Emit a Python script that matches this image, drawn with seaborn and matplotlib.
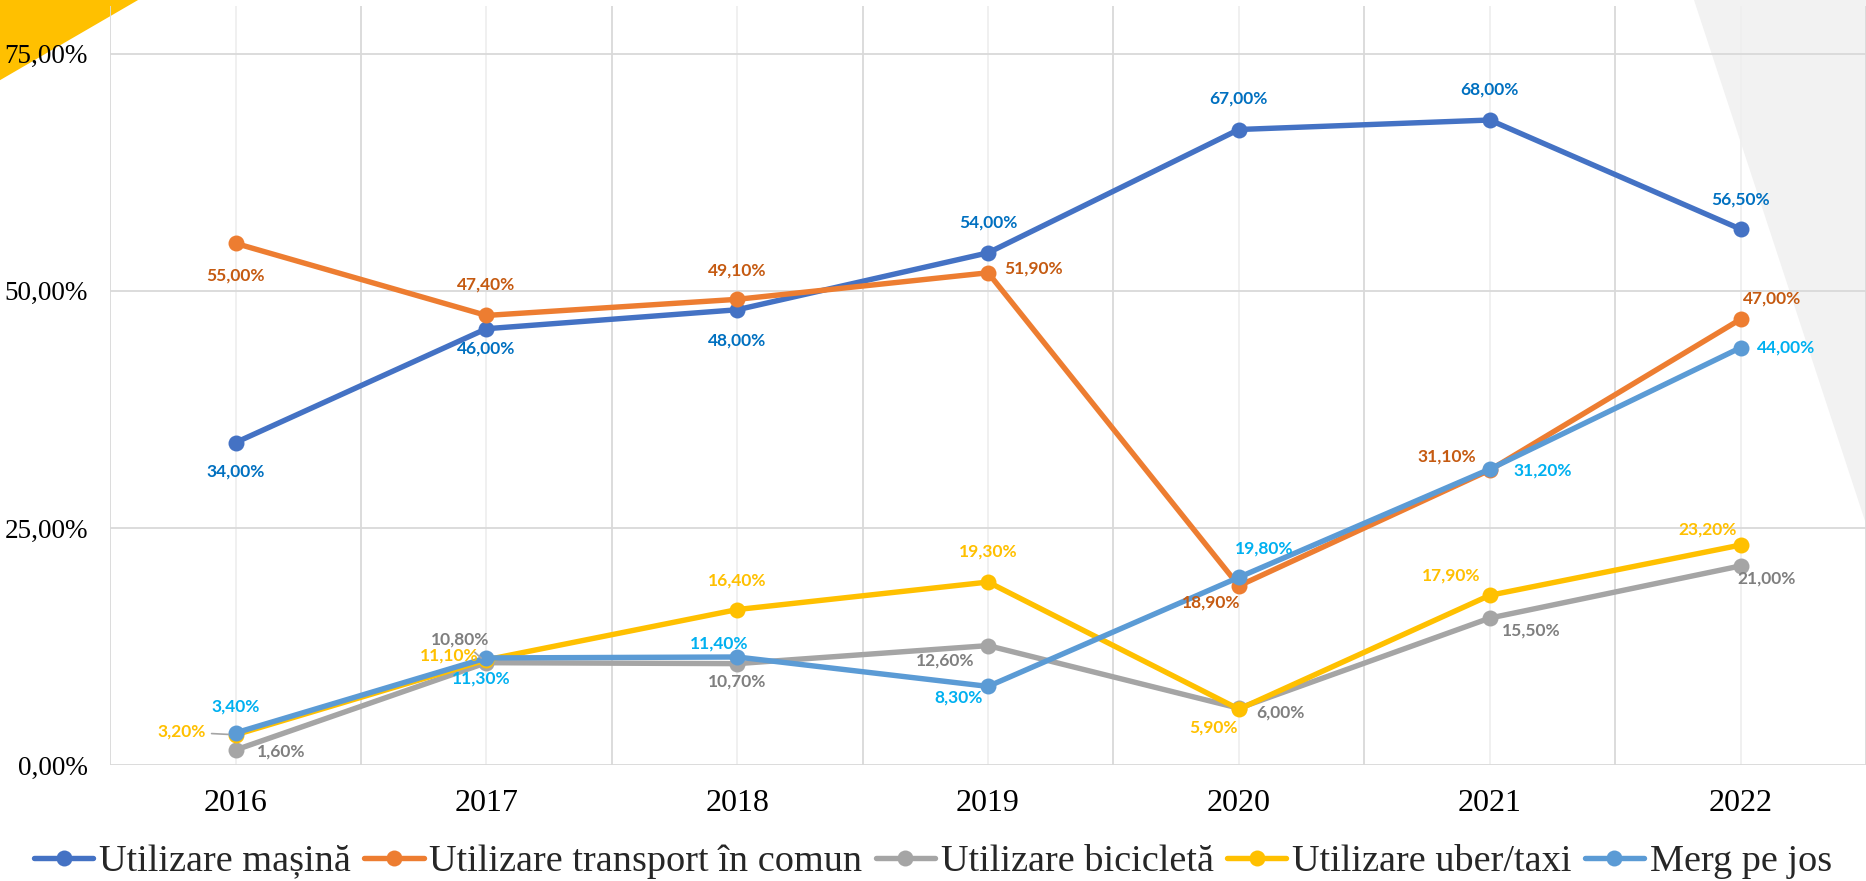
import numpy as np
import pandas as pd
import matplotlib.pyplot as plt
import seaborn as sns
from matplotlib.patches import Polygon

# -----------------------------
# Data
# -----------------------------
years = ["2016", "2017", "2018", "2019", "2020", "2021", "2022"]
series_names = ["Utilizare mașină", "Utilizare transport în comun",
                "Utilizare bicicletă", "Utilizare uber/taxi", "Merg pe jos"]
masina = [34.0, 46.0, 48.0, 54.0, 67.0, 68.0, 56.5]
transport = [55.0, 47.4, 49.1, 51.9, 18.9, 31.1, 47.0]
bicicleta = [1.6, 10.8, 10.7, 12.6, 6.0, 15.5, 21.0]
uber = [3.2, 11.1, 16.4, 19.3, 5.9, 17.9, 23.2]
pe_jos = [3.4, 11.3, 11.4, 8.3, 19.8, 31.2, 44.0]
y_ticks = [0, 25, 50, 75]

values = [masina, transport, bicicleta, uber, pe_jos]
rows = []
for name, vals in zip(series_names, values):
    for i, v in enumerate(vals):
        rows.append({"x": i, "an": years[i], "serie": name, "val": v})
df = pd.DataFrame(rows)

# -----------------------------
# Style
# -----------------------------
line_colors = ["#4472C4", "#ED7D31", "#A5A5A5", "#FFC000", "#5B9BD5"]
label_colors = ["#0070C0", "#C55A11", "#7F7F7F", "#FFC000", "#00B0F0"]
# label offsets (points) for every point of each series
offsets = [
    [(0, -21), (0, -14), (0, -22), (0, 22), (0, 22), (0, 22), (0, 21)],
    [(0, -23), (0, 22), (0, 21), (33, 3), (-20, -12), (-31, 10), (23, 15)],
    [(33, -1), (-19, 17), (0, -13), (-31, -11), (30, -3), (30, -9), (19, -9)],
    [(-39, 2), (-27, 3), (0, 21), (0, 22), (-18, -13), (-28, 14), (-24, 11)],
    [(0, 19), (-4, -15), (-13, 10), (-21, -8), (18, 21), (38, -1), (33, 0)],
]
leaders = {(2, 1), (3, 0)}

sns.set_theme(style="white")
plt.rcParams["font.family"] = ["Liberation Serif", "DejaVu Serif"]

fig = plt.figure(figsize=(18.66, 8.81), dpi=100)
fig.patch.set_facecolor("white")

# background decorations (behind the axes)
fig.patches.append(Polygon([(0, 1), (0.074, 1), (0, 0.909)], closed=True,
                           transform=fig.transFigure, facecolor="#FFC000",
                           edgecolor="none", zorder=-5))
fig.patches.append(Polygon([(0.908, 1), (1, 1), (1, 0.405)], closed=True,
                           transform=fig.transFigure, facecolor="#F2F2F2",
                           edgecolor="none", zorder=-5))

ax = fig.add_axes([0.059, 0.1315, 0.941, 0.8615])
ax.set_facecolor("none")

sns.lineplot(data=df, x="x", y="val", hue="serie", hue_order=series_names,
             palette=line_colors, marker="o", markersize=11.5, markeredgewidth=0,
             linewidth=3.9, ax=ax, legend=True, zorder=3)

# data labels
for s, vals in enumerate(values):
    for i, v in enumerate(vals):
        txt = f"{v:.2f}".replace(".", ",") + "%"
        kw = {}
        if (s, i) in leaders:
            kw["arrowprops"] = dict(arrowstyle="-", color="#A5A5A5", lw=1.2,
                                    shrinkA=2, shrinkB=5)
        ax.annotate(txt, (i, v), xytext=offsets[s][i], textcoords="offset points",
                    ha="center", va="center", fontsize=12.5, fontweight="bold",
                    family=["Lato", "DejaVu Sans"], color=label_colors[s],
                    zorder=5, **kw)

# axes
ax.set_xlim(-0.5, 6.5)
ax.set_ylim(0, 80)
ax.set_xticks(range(len(years)))
ax.set_xticklabels(years, fontsize=23)
ax.set_xticks(np.arange(-0.5, 7, 1), minor=True)
ax.set_yticks(y_ticks)
ax.set_yticklabels([f"{t:.2f}".replace(".", ",") + "%" for t in y_ticks], fontsize=19.5)
ax.tick_params(axis="x", which="both", length=0, pad=17, colors="black")
ax.tick_params(axis="y", length=0, pad=16, colors="black")
ax.grid(axis="y", color="#D9D9D9", linewidth=1.3)
ax.grid(axis="x", which="minor", color="#D9D9D9", linewidth=1.3)
ax.grid(axis="x", which="major", color="#EFEFEF", linewidth=1.3)
ax.set_axisbelow(True)
for sp in ax.spines.values():
    sp.set_visible(False)
ax.set_xlabel("")
ax.set_ylabel("")

# legend
handles, labels = ax.get_legend_handles_labels()
ax.legend_.remove()
fig.legend(handles, labels, loc="center", bbox_to_anchor=(0.5, 0.022), ncol=5,
           frameon=False, fontsize=27.5, handlelength=1.55, handletextpad=0.15,
           columnspacing=0.35, borderaxespad=0)

fig.savefig("out.png", dpi=100)
